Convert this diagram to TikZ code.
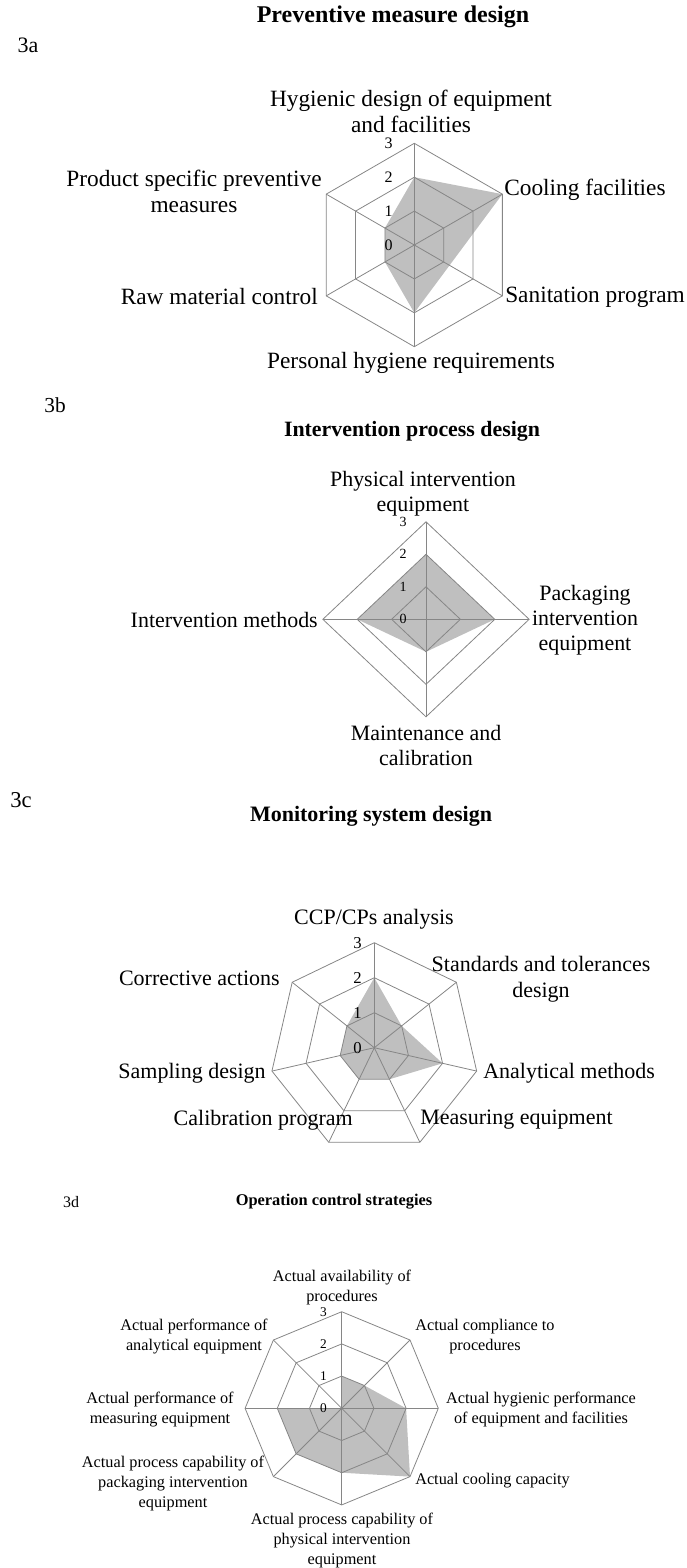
\documentclass[tikz,border=0pt]{standalone}
\usepackage{fontspec}
\setmainfont{Liberation Serif}
\usepackage{tikz}
\usetikzlibrary{positioning}
\definecolor{gridgray}{RGB}{134,134,134}
\definecolor{areagray}{RGB}{191,191,191}

\begin{document}
\begin{tikzpicture}[x=0.75pt,y=-0.75pt,
    grid/.style={draw=gridgray,line width=0.6pt},
    area/.style={fill=areagray},
    lbl/.style={align=center,inner sep=0pt},
    num/.style={anchor=east,inner sep=0pt},
    ttl/.style={inner sep=0pt}]
  \useasboundingbox (0,0) rectangle (686,1568);

  % 3a
  \node[ttl,font=\fontsize{18}{20}\selectfont\bfseries] (TA) at (393,17) {Preventive measure design};
  \node[ttl,font=\fontsize{16.5}{20}\selectfont] (NA) at (28,45) {3a};
  \begin{scope}[shift={(414.3,245)}]
    \fill[area] (-90:67.8) -- (-30:101.7) -- (30:40.7) -- (90:67.8) -- (150:33.9) -- (210:33.9) -- cycle;
    \foreach \r in {1,2,3}
      \draw[grid] (-90:{\r*33.9}) \foreach \a in {-30,30,...,210} { -- (\a:{\r*33.9}) } -- cycle;
    \foreach \a in {-90,-30,...,210}
      \draw[grid] (0,0) -- (\a:101.7);
  \end{scope}
  \foreach \v in {0,...,3}
    \node[num,font=\fontsize{12}{14}\selectfont] (an\v) at (393,{245-\v*33.9}) {\v};
  \begin{scope}[every node/.style={lbl,font=\fontsize{17.5}{19.5}\selectfont}]
    \node (A1) at (411,111) {Hygienic design of equipment\\and facilities};
    \node[anchor=west] (A2) at (504,190) {Cooling facilities};
    \node[anchor=west] (A3) at (505,297) {Sanitation program};
    \node (A4) at (411,363) {Personal hygiene requirements};
    \node[anchor=east] (A5) at (318,297) {Raw material control};
    \node (A6) at (194,191.5) {Product specific preventive\\measures};
  \end{scope}

  % 3b
  \node[ttl,font=\fontsize{16.4}{20}\selectfont\bfseries] (TB) at (412,431) {Intervention process design};
  \node[ttl,font=\fontsize{16}{20}\selectfont] (NB) at (55,405) {3b};
  \begin{scope}[shift={(426,619.3)},xscale=1.058]
    \fill[area] (-90:65) -- (0:65) -- (90:32.5) -- (180:65) -- cycle;
    \foreach \r in {1,2,3}
      \draw[grid] (-90:{\r*32.5}) -- (0:{\r*32.5}) -- (90:{\r*32.5}) -- (180:{\r*32.5}) -- cycle;
    \foreach \a in {-90,0,90,180}
      \draw[grid] (0,0) -- (\a:97.5);
  \end{scope}
  \foreach \v in {0,...,3}
    \node[num,font=\fontsize{10.5}{12}\selectfont] (bn\v) at (407,{619.3-\v*32.5}) {\v};
  \begin{scope}[every node/.style={lbl,font=\fontsize{16.45}{18.75}\selectfont}]
    \node (B1) at (423,493.5) {Physical intervention\\equipment};
    \node (B2) at (585,620) {Packaging\\intervention\\equipment};
    \node (B3) at (426,745.5) {Maintenance and\\calibration};
    \node[anchor=east] (B4) at (318,620) {Intervention methods};
  \end{scope}

  % 3c
  \node[ttl,font=\fontsize{16.5}{20}\selectfont\bfseries] (TC) at (371,816) {Monitoring system design};
  \node[ttl,font=\fontsize{17}{20}\selectfont] (NC) at (21,800) {3c};
  \begin{scope}[shift={(374.3,1047.7)}]
    \fill[area] (-90:70) -- (-38.57:35) -- (12.86:70) -- (64.29:35) -- (115.71:35) -- (167.14:35) -- (218.57:35) -- cycle;
    \foreach \r in {1,2,3}
      \draw[grid] (-90:{\r*35}) \foreach \i in {1,...,6} { -- ({-90+\i*360/7}:{\r*35}) } -- cycle;
    \foreach \i in {0,...,6}
      \draw[grid] (0,0) -- ({-90+\i*360/7}:105);
  \end{scope}
  \foreach \v in {0,...,3}
    \node[num,font=\fontsize{12.5}{14}\selectfont] (cn\v) at (362,{1047.7-\v*35}) {\v};
  \begin{scope}[every node/.style={lbl,font=\fontsize{16.5}{19.5}\selectfont}]
    \node (C1) at (374,919) {CCP/CPs analysis};
    \node (C2) at (541,979.5) {Standards and tolerances\\design};
    \node[anchor=west] (C3) at (483,1073) {Analytical methods};
    \node[anchor=west] (C4) at (420,1120) {Measuring equipment};
    \node[anchor=east] (C5) at (353,1120) {Calibration program};
    \node[anchor=east] (C6) at (266,1073) {Sampling design};
    \node[anchor=east] (C7) at (280,978) {Corrective actions};
  \end{scope}

  % 3d
  \node[ttl,font=\fontsize{12.3}{14}\selectfont\bfseries] (TD) at (334,1202) {Operation control strategies};
  \node[ttl,font=\fontsize{12}{14}\selectfont] (ND) at (71,1202) {3d};
  \begin{scope}[shift={(341.7,1408.3)}]
    \fill[area] (-90:32.2) -- (-45:32.2) -- (0:64.4) -- (45:96.6) -- (90:64.4) -- (135:64.4) -- (180:64.4) -- (0,0) -- cycle;
    \foreach \r in {1,2,3}
      \draw[grid] (-90:{\r*32.2}) \foreach \a in {-45,0,...,225} { -- (\a:{\r*32.2}) } -- cycle;
    \foreach \a in {-90,-45,...,225}
      \draw[grid] (0,0) -- (\a:96.6);
  \end{scope}
  \foreach \v in {0,...,3}
    \node[num,font=\fontsize{10}{12}\selectfont] (dn\v) at (327,{1408.3-\v*32.2}) {\v};
  \begin{scope}[every node/.style={lbl,font=\fontsize{12.2}{15}\selectfont}]
    \node (D1) at (342,1287) {Actual availability of\\procedures};
    \node (D2) at (485,1337) {Actual compliance to\\procedures};
    \node (D3) at (541,1409.5) {Actual hygienic performance\\of equipment and facilities};
    \node[anchor=west] (D4) at (415,1481) {Actual cooling capacity};
    \node (D5) at (342,1540.5) {Actual process capability of\\physical intervention\\equipment};
    \node (D6) at (173,1483.5) {Actual process capability of\\packaging intervention\\equipment};
    \node (D7) at (160,1409.5) {Actual performance of\\measuring equipment};
    \node (D8) at (194,1337) {Actual performance of\\analytical equipment};
  \end{scope}
\end{tikzpicture}
\end{document}
